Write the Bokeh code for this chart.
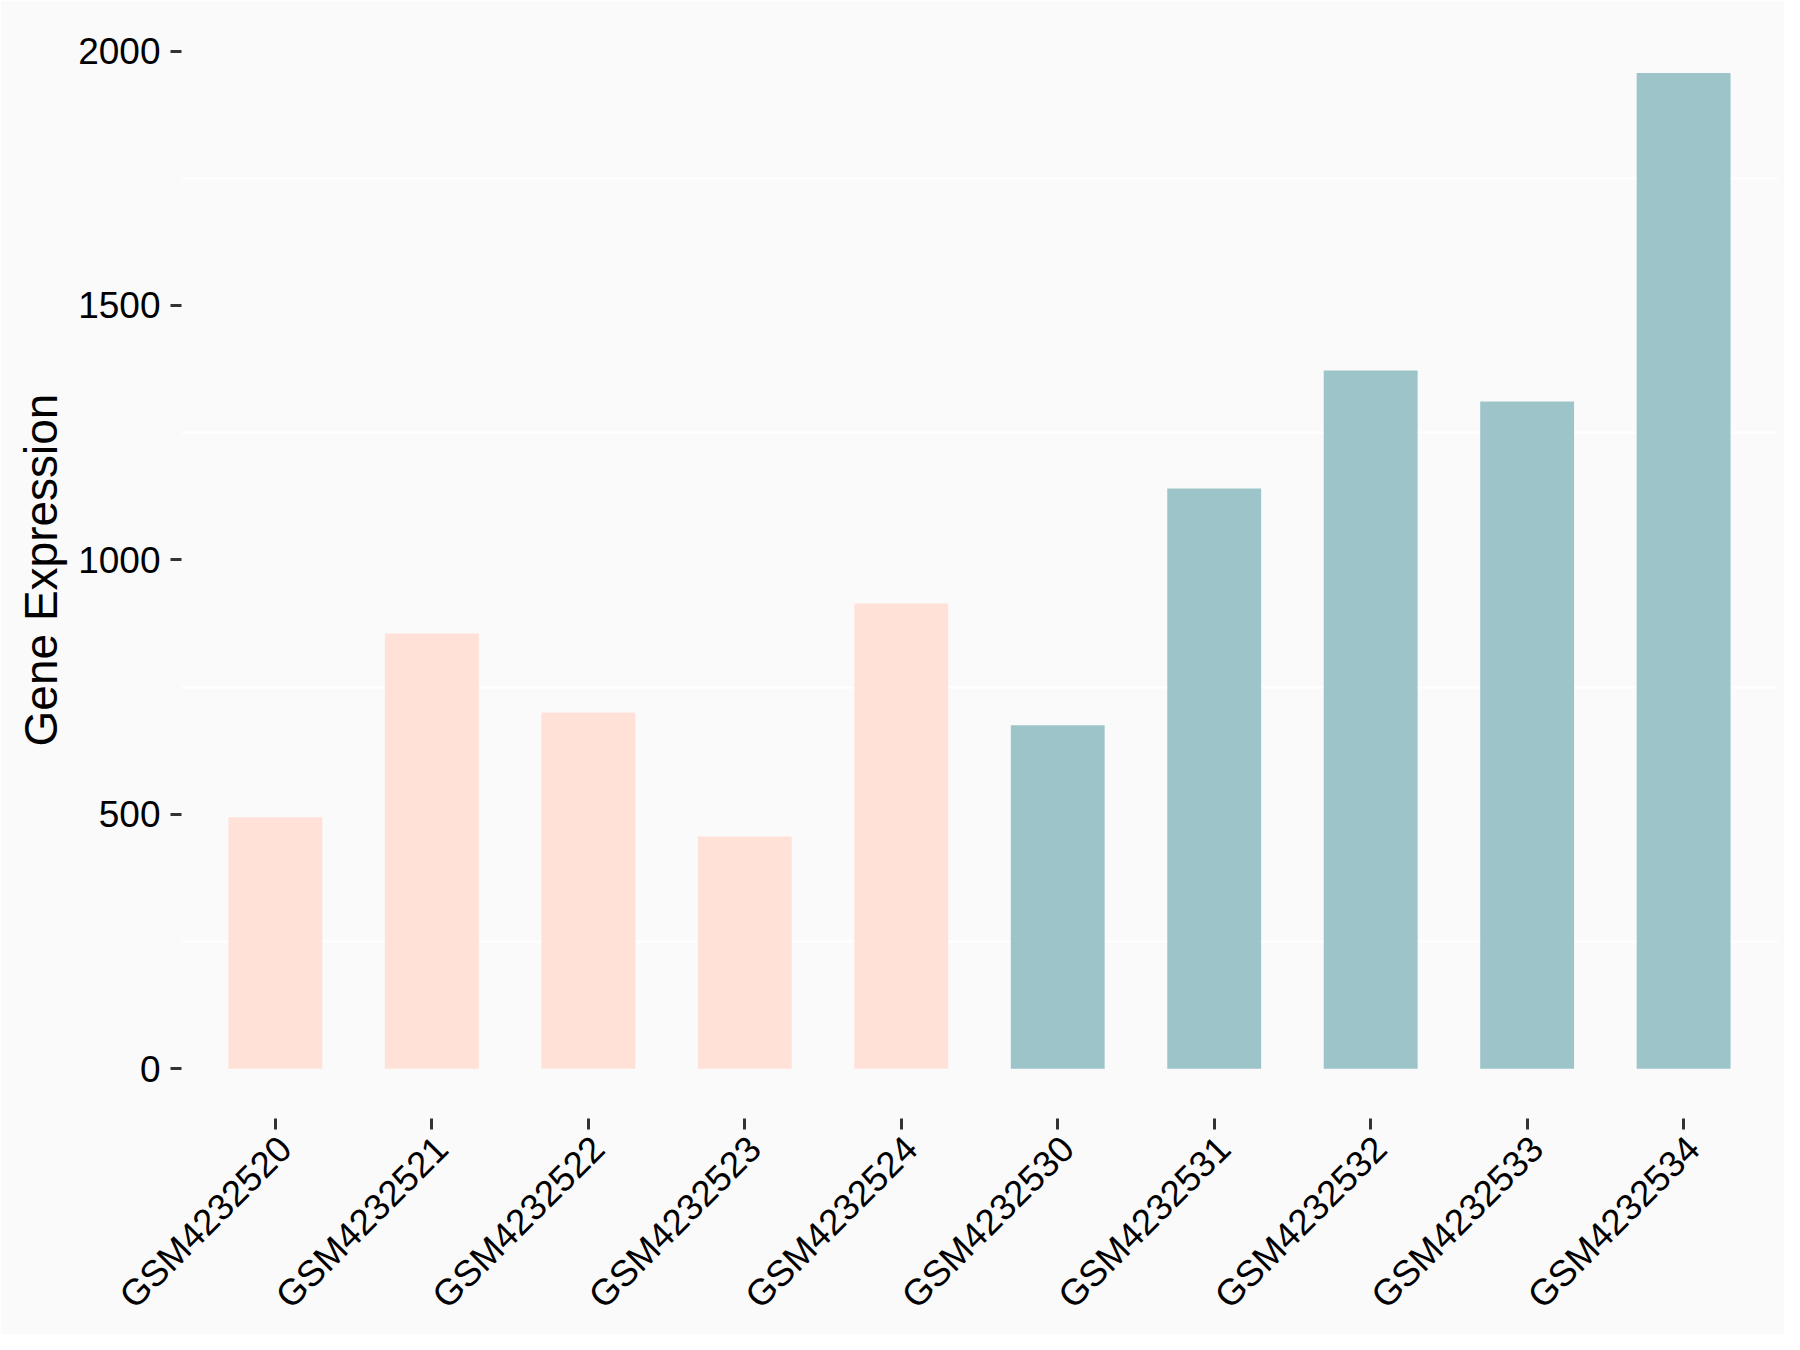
import math
from bokeh.plotting import figure
from bokeh.models import Range1d, FixedTicker, ColumnDataSource, LinearAxis
from bokeh.embed import file_html
from bokeh.resources import INLINE

# ---- data ----
samples = ["GSM4232520", "GSM4232521", "GSM4232522", "GSM4232523", "GSM4232524",
           "GSM4232530", "GSM4232531", "GSM4232532", "GSM4232533", "GSM4232534"]
expression = [494, 855, 700, 456, 914, 675, 1140, 1372, 1311, 1957]
groups = ["control"] * 5 + ["treated"] * 5
group_colors = {"control": "#FFE1D7", "treated": "#9DC4C8"}
y_ticks = [0, 500, 1000, 1500, 2000]
y_minor = [250, 750, 1250, 1750]

positions = list(range(1, len(samples) + 1))
source = ColumnDataSource(dict(
    x=positions,
    top=expression,
    sample=samples,
    color=[group_colors[g] for g in groups],
))

FONT = "Liberation Sans"
BG = "#FAFAFA"

x_start, x_end = 0.4, len(samples) + 0.6
p = figure(width=1784, height=1334,
           x_range=Range1d(x_start, x_end),
           y_range=Range1d(-98, 2058),
           output_backend="svg", toolbar_location=None,
           background_fill_color=BG, border_fill_color=BG,
           outline_line_color=None,
           min_border_left=181, min_border_right=7,
           min_border_top=21, min_border_bottom=216)

p.vbar(x="x", top="top", bottom=0, width=0.6, fill_color="color",
       line_color=None, source=source)

# grids: only white minor lines on y
p.xgrid.grid_line_color = None
p.ygrid.grid_line_color = None
p.ygrid.minor_grid_line_color = "white"
p.ygrid.minor_grid_line_width = 2

# y axis
p.yaxis.ticker = FixedTicker(ticks=y_ticks, minor_ticks=y_minor)
p.yaxis.axis_label = "Gene Expression"
p.yaxis.axis_label_text_font = FONT
p.yaxis.axis_label_text_font_size = "46px"
p.yaxis.axis_label_text_font_style = "normal"
p.yaxis.axis_label_text_color = "black"
p.yaxis.axis_label_standoff = 8
p.yaxis.major_label_text_font_size = "37px"
p.yaxis.major_label_standoff = 10

# x axis (primary): tick marks only
p.xaxis.ticker = FixedTicker(ticks=positions)
p.xaxis.major_label_overrides = {pos: "" for pos in positions}
p.xaxis.major_label_text_font_size = "0px"
p.xaxis.major_label_standoff = 0

for ax in (p.xaxis, p.yaxis):
    ax.axis_line_color = None
    ax.major_tick_line_color = "#333333"
    ax.major_tick_line_width = 3
    ax.major_tick_in = 0
    ax.major_tick_out = 11
    ax.minor_tick_line_color = None
    ax.major_label_text_font = FONT
    ax.major_label_text_color = "black"

# second x axis carrying the rotated sample names, on a slightly shifted range
shift = 0.062
p.extra_x_ranges = {"labels": Range1d(x_start - shift, x_end - shift)}
lab_axis = LinearAxis(x_range_name="labels",
                      ticker=FixedTicker(ticks=positions),
                      major_label_overrides={pos: name for pos, name in zip(positions, samples)},
                      major_label_orientation=math.pi / 4,
                      major_label_text_font=FONT,
                      major_label_text_font_size="36.5px",
                      major_label_text_color="black",
                      major_label_standoff=13,
                      axis_line_color=None,
                      major_tick_line_color=None,
                      major_tick_in=0, major_tick_out=0,
                      minor_tick_line_color=None)
p.add_layout(lab_axis, "below")

open("out.html", "w").write(file_html(p, INLINE))
